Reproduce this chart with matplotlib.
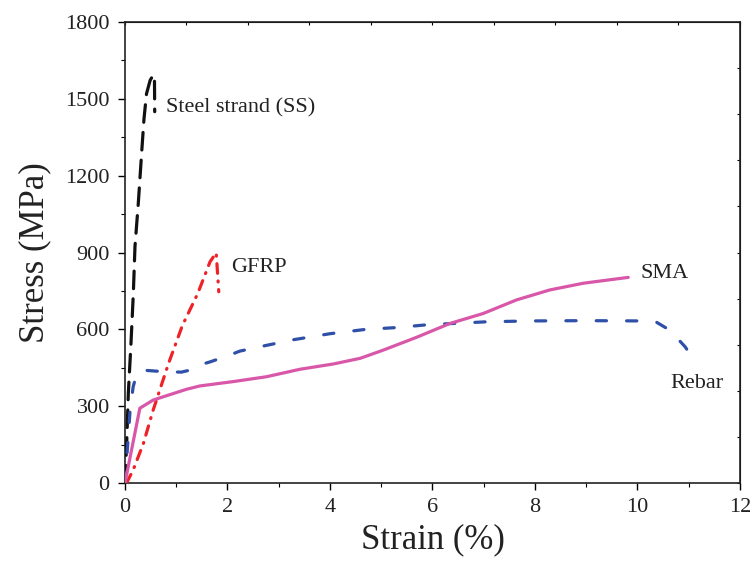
import numpy as np
import matplotlib as mpl
mpl.use("Agg")
import matplotlib.pyplot as plt
from matplotlib.ticker import MultipleLocator

mpl.rcParams.update({
    "font.family": "serif",
    "font.serif": ["Liberation Serif", "DejaVu Serif"],
    "mathtext.fontset": "stix",
})

# ---- stress-strain data (strain in %, stress in MPa) ----
ss_strain = [0.0, 0.033, 0.065, 0.117, 0.163, 0.195, 0.26, 0.325, 0.37, 0.42, 0.49, 0.55, 0.575, 0.58]
ss_stress = [0, 155, 350, 545, 741, 923, 1093, 1289, 1420, 1520, 1572, 1593, 1590, 1450]

gfrp_strain = [0.03, 0.16, 0.36, 0.55, 0.85, 1.12, 1.42, 1.66, 1.78, 1.83]
gfrp_stress = [0, 51, 155, 285, 467, 615, 740, 864, 899, 747]

rebar_strain = [0.0, 0.1, 0.16, 0.22, 0.27, 0.4, 0.6, 0.9, 1.1, 1.25, 1.46, 1.66, 2.05,
                2.24, 2.7, 3.3, 4.0, 4.7, 5.3, 5.9, 6.5, 7.1, 8.0, 9.0, 10.0, 10.37,
                10.63, 10.93, 11.12]
rebar_stress = [0, 285, 376, 420, 435, 440, 437, 434, 433, 440, 461, 473, 500,
                515, 535, 560, 583, 600, 607, 618, 624, 630, 633, 634, 633, 628,
                597, 532, 475]

sma_strain = [0.0, 0.29, 0.55, 1.2, 1.46, 2.11, 2.76, 3.41, 4.07, 4.59, 5.04, 5.69,
              6.34, 6.99, 7.64, 8.29, 8.94, 9.82]
sma_stress = [0, 292, 324, 366, 379, 396, 415, 444, 465, 487, 519, 569,
              623, 662, 715, 754, 780, 803]

fig = plt.figure(figsize=(7.52, 5.61), dpi=100)
ax = fig.add_axes([0.1662, 0.139, 0.8178, 0.8217])

lw = 2.3
ax.plot(ss_strain, ss_stress, color="#111111", lw=lw, ls=(0, (5.5, 3.2)),
        dash_capstyle="round", solid_capstyle="round", zorder=3)
ax.plot(gfrp_strain, gfrp_stress, color="#ee2328", lw=lw,
        ls=(0, (3.0, 2.4, 0.3, 2.4)), dash_capstyle="round", zorder=3)
ax.plot(rebar_strain, rebar_stress, color="#2f50a8", lw=lw, ls=(0, (3.2, 6.3)),
        dash_capstyle="round", zorder=3)
ax.plot(sma_strain, sma_stress, color="#d957a8", lw=lw, solid_capstyle="round",
        zorder=4)

# curve labels
lab = dict(fontsize=16, color="#222222", va="center", ha="left")
ax.text(0.80, 1463, "Steel strand (SS)", **lab)
ax.text(2.07, 840, "GFRP", **lab)
ax.text(10.05, 820, "SMA", **lab)
ax.text(10.64, 390, "Rebar", **lab)

ax.set_xlim(0, 12)
ax.set_ylim(0, 1800)
ax.xaxis.set_major_locator(MultipleLocator(2))
ax.xaxis.set_minor_locator(MultipleLocator(1))
ax.yaxis.set_major_locator(MultipleLocator(300))
ax.yaxis.set_minor_locator(MultipleLocator(150))
ax.tick_params(which="major", direction="out", length=5, width=1.0,
               labelsize=16, labelcolor="#222222", pad=6,
               top=False, right=False)
ax.tick_params(which="minor", direction="out", length=3, width=0.8,
               top=False, right=False)

# secondary top/right frames with fine inward ticks
top = ax.secondary_xaxis("top")
top.set_xticks(np.arange(0, 12.01, 1.2))
top.set_xticklabels([])
top.tick_params(direction="in", length=2.5, width=0.8)
right = ax.secondary_yaxis("right")
right.set_yticks(np.arange(0, 1800.1, 180))
right.set_yticklabels([])
right.tick_params(direction="in", length=2.5, width=0.8)

for s in ax.spines.values():
    s.set_linewidth(1.2)
    s.set_color("#222222")

ax.set_xlabel("Strain (%)", fontsize=25, color="#222222", labelpad=4)
ax.set_ylabel("Stress (MPa)", fontsize=25, color="#222222", labelpad=10)

fig.savefig("out.png", dpi=100)
